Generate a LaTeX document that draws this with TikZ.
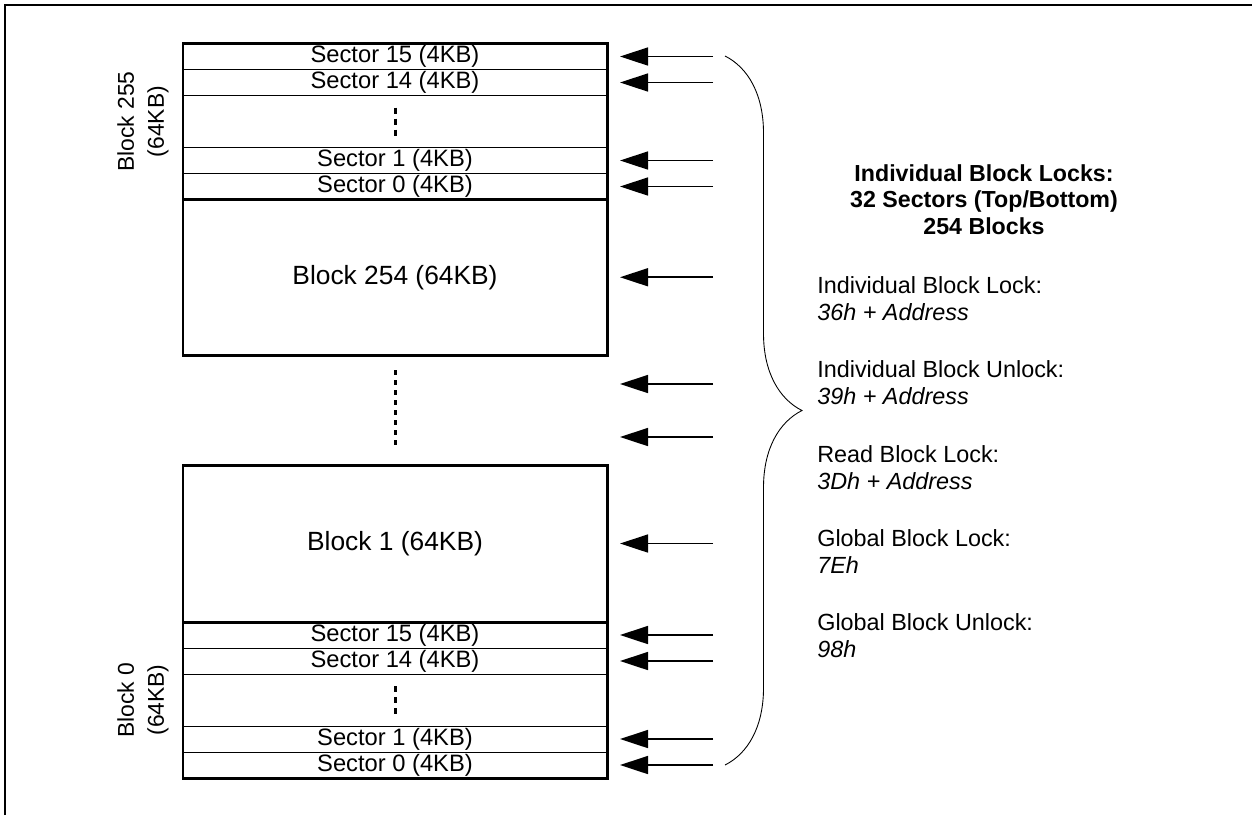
\documentclass[tikz,border=0pt]{standalone}
\usepackage{fontspec}
\setmainfont{Liberation Sans}
\usepackage{tikz}
\usetikzlibrary{positioning}
\usetikzlibrary{arrows.meta}
\usetikzlibrary{decorations.pathreplacing}
\tikzstyle{sector} = [draw, line width=0.5pt, minimum width=84.8mm, minimum height=5.2mm, inner sep=0pt, outer sep=0pt, font=\fontsize{13.5}{16}\selectfont]
\tikzstyle{gapbox} = [minimum width=84.8mm, minimum height=10.4mm, inner sep=0pt, outer sep=0pt]
\tikzstyle{block} = [draw, line width=1.7pt, minimum width=84.8mm, inner sep=0pt, outer sep=0pt, font=\fontsize{15}{18}\selectfont]
\tikzstyle{lockarrow} = [draw, line width=0.9pt, -{Triangle[length=5.6mm,width=3.6mm]}]
\tikzstyle{dotline} = [draw, line width=0.06cm]
\tikzstyle{note} = [align=left, inner sep=0pt, font=\fontsize{13.3}{15.4}\selectfont]
\tikzstyle{sidelabel} = [rotate=90, align=center, inner sep=0pt, font=\fontsize{13}{17}\selectfont]

\begin{document}
\begin{tikzpicture}
	\useasboundingbox (0,0) rectangle (25.04,-16.3);
	\draw[line width=1.1pt] (0.1,-16.3) -- (0.1,-0.1) -- (25.04,-0.1);

	% block 255 split in sectors
	\node[sector] at (7.9,-1.13) (s15a) {Sector 15 (4KB)};
	\node[sector, below=0pt of s15a] (s14a) {Sector 14 (4KB)};
	\node[gapbox, below=0pt of s14a] (gapa) {};
	\node[sector, below=0pt of gapa] (s1a) {Sector 1 (4KB)};
	\node[sector, below=0pt of s1a] (s0a) {Sector 0 (4KB)};
	\draw[line width=1.7pt] (s15a.north west) rectangle (s0a.south east);
	\draw[dotline, dash pattern=on 0.12cm off 0.1cm] ([yshift=0.28cm]gapa.center) -- ([yshift=-0.28cm]gapa.center);
	\node[sidelabel] at (2.86,-2.43) (l255) {Block 255\\(64KB)};

	\node[block, minimum height=31.1mm, below=0pt of s0a] (b254) {Block 254 (64KB)};
	\draw[dotline, dash pattern=on 0.1cm off 0.1cm] ([yshift=-0.3cm]b254.south) -- ([yshift=-1.8cm]b254.south);
	\coordinate (g1) at ([yshift=-0.58cm]b254.south east);
	\coordinate (g2) at ([yshift=-1.64cm]b254.south east);
	\node[block, minimum height=31.4mm, below=22mm of b254] (b1) {Block 1 (64KB)};

	% block 0 split in sectors
	\node[sector, below=0pt of b1] (s15b) {Sector 15 (4KB)};
	\node[sector, below=0pt of s15b] (s14b) {Sector 14 (4KB)};
	\node[gapbox, below=0pt of s14b] (gapb) {};
	\node[sector, below=0pt of gapb] (s1b) {Sector 1 (4KB)};
	\node[sector, below=0pt of s1b] (s0b) {Sector 0 (4KB)};
	\draw[line width=1.7pt] (s15b.north west) rectangle (s0b.south east);
	\draw[dotline, dash pattern=on 0.12cm off 0.1cm] ([yshift=0.28cm]gapb.center) -- ([yshift=-0.28cm]gapb.center);
	\node[sidelabel] at (2.86,-14.0) (l0) {Block 0\\(64KB)};

	% lock arrows
	\draw[lockarrow] ([xshift=2.12cm]s15a.east) -- ([xshift=0.26cm]s15a.east);
	\draw[lockarrow] ([xshift=2.12cm]s14a.east) -- ([xshift=0.26cm]s14a.east);
	\draw[lockarrow] ([xshift=2.12cm]s1a.east) -- ([xshift=0.26cm]s1a.east);
	\draw[lockarrow] ([xshift=2.12cm]s0a.east) -- ([xshift=0.26cm]s0a.east);
	\draw[lockarrow] ([xshift=2.12cm]b254.east) -- ([xshift=0.26cm]b254.east);
	\draw[lockarrow] ([xshift=2.12cm]g1) -- ([xshift=0.26cm]g1);
	\draw[lockarrow] ([xshift=2.12cm]g2) -- ([xshift=0.26cm]g2);
	\draw[lockarrow] ([xshift=2.12cm]b1.east) -- ([xshift=0.26cm]b1.east);
	\draw[lockarrow] ([xshift=2.12cm]s15b.east) -- ([xshift=0.26cm]s15b.east);
	\draw[lockarrow] ([xshift=2.12cm]s14b.east) -- ([xshift=0.26cm]s14b.east);
	\draw[lockarrow] ([xshift=2.12cm]s1b.east) -- ([xshift=0.26cm]s1b.east);
	\draw[lockarrow] ([xshift=2.12cm]s0b.east) -- ([xshift=0.26cm]s0b.east);

	\coordinate (bracetop) at (14.5,-1.12);
	\coordinate (bracebot) at (14.5,-15.3);
	\draw[line width=0.5pt, decorate, decoration={brace, amplitude=1.54cm}] (bracetop) -- (bracebot);

	\node[align=center, inner sep=0pt, font=\fontsize{13.2}{15.1}\selectfont\bfseries] at (19.68,-3.99) (title) {Individual Block Locks:\\32 Sectors (Top/Bottom)\\254 Blocks};

	\node[note, anchor=west] at (16.34,-5.97) (ilock) {Individual Block Lock:\\\textit{36h + Address}};
	\node[note, below=0.79cm of ilock.south west, anchor=north west] (iunlock) {Individual Block Unlock:\\\textit{39h + Address}};
	\node[note, below=0.79cm of iunlock.south west, anchor=north west] (rlock) {Read Block Lock:\\\textit{3Dh + Address}};
	\node[note, below=0.79cm of rlock.south west, anchor=north west] (glock) {Global Block Lock:\\\textit{7Eh}};
	\node[note, below=0.79cm of glock.south west, anchor=north west] (gunlock) {Global Block Unlock:\\\textit{98h}};
\end{tikzpicture}
\end{document}
